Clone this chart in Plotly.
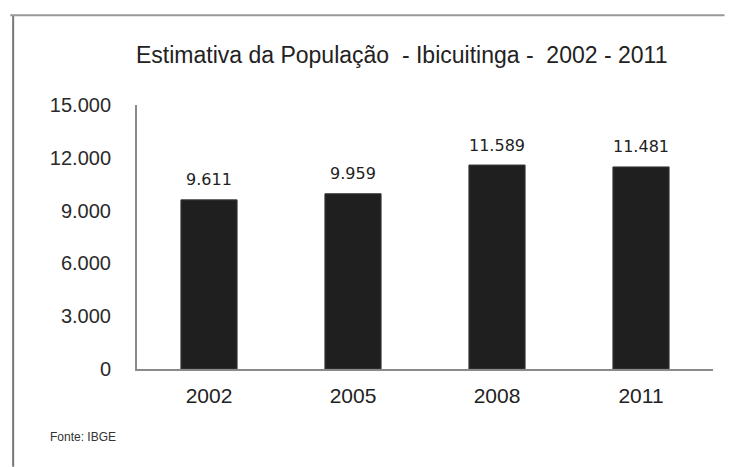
import plotly.graph_objects as go

years = ["2002", "2005", "2008", "2011"]
population = [9611, 9959, 11589, 11481]
y_ticks = [0, 3000, 6000, 9000, 12000, 15000]
title_text = "Estimativa da População  - Ibicuitinga -  2002 - 2011"
source_text = "Fonte: IBGE"


def fmt(v):
    return f"{v:,}".replace(",", ".")


fig = go.Figure()
fig.add_trace(go.Bar(
    x=years, y=population,
    marker=dict(color="#1f1f1f", line=dict(color="#3a3a3a", width=1)),
    width=0.39,
))

for i, v in enumerate(population):
    fig.add_annotation(x=i, y=v, text=fmt(v), showarrow=False,
                       yshift=20, font=dict(family="DejaVu Sans", size=16, color="#222"))

fig.update_layout(
    width=727, height=459,
    margin=dict(l=129, r=22, t=97, b=98),
    paper_bgcolor="white", plot_bgcolor="white",
    showlegend=False,
    separators=",.",
    font=dict(family="Liberation Sans, Arial", color="#333"),
    xaxis=dict(
        type="category", range=[-0.5, len(years) - 0.5],
        showline=True, linecolor="#8a8a8a", linewidth=2,
        showgrid=False, ticks="", tickfont=dict(size=21, color="#222"),
        ticklabelstandoff=7,
    ),
    yaxis=dict(
        range=[0, 15000], tickvals=y_ticks, ticktext=[fmt(t) for t in y_ticks],
        showline=True, linecolor="#8a8a8a", linewidth=2,
        showgrid=False, zeroline=False, ticks="",
        tickfont=dict(size=20, color="#2a2a2a"),
        ticklabelstandoff=20,
    ),
)

fig.add_annotation(xref="paper", yref="paper", x=0.46, y=1.19, text=title_text,
                   showarrow=False, xanchor="center", yanchor="middle",
                   font=dict(size=23, color="#222"))
fig.add_annotation(xref="paper", yref="paper", x=-0.155, y=-0.258, text=source_text,
                   showarrow=False, xanchor="left", yanchor="middle",
                   font=dict(size=12, color="#333"))

# outer frame
fig.add_shape(type="line", xref="paper", yref="paper", x0=-0.215, x1=-0.215, y0=1.34, y1=-0.37,
              line=dict(color="#777", width=2))
fig.add_shape(type="line", xref="paper", yref="paper", x0=-0.22, x1=1.02, y0=1.34, y1=1.34,
              line=dict(color="#999", width=2))

fig.write_html("out.html")
